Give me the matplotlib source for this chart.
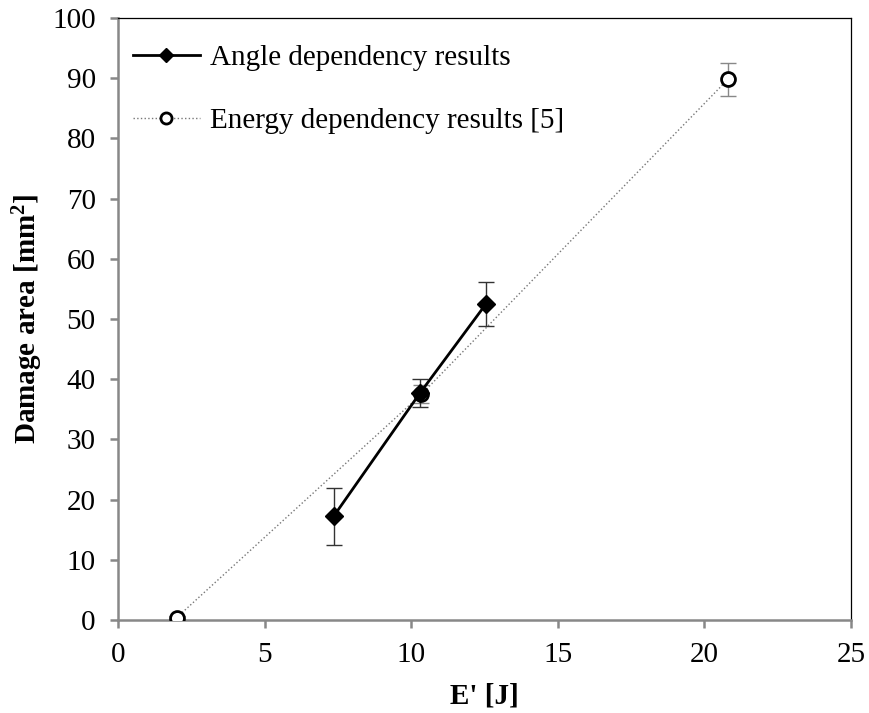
import matplotlib.pyplot as plt

# angle dependency results
angle_x = [7.35, 10.3, 12.55]
angle_y = [17.2, 37.7, 52.5]
angle_err = [4.7, 2.4, 3.6]

# energy dependency results [5]
energy_x = [2.0, 10.35, 20.8]
energy_y = [0.4, 37.5, 89.8]
energy_err = [0.3, 1.5, 2.8]

plt.rcParams['font.family'] = ['Liberation Serif', 'DejaVu Serif']
plt.rcParams['mathtext.fontset'] = 'custom'
plt.rcParams['mathtext.rm'] = 'Liberation Serif'
plt.rcParams['mathtext.bf'] = 'Liberation Serif:bold'

fig = plt.figure(figsize=(8.69, 7.13), dpi=100)
ax = fig.add_axes([0.1358, 0.1304, 0.8435, 0.8444])

grey = '#888888'

ax.errorbar(energy_x, energy_y, yerr=energy_err, fmt='none', ecolor=grey,
            elinewidth=1, capsize=6, zorder=2)
ax.plot(energy_x, energy_y, linestyle=':', color='#777777', linewidth=1,
        marker='o', markersize=10, markerfacecolor='white',
        markeredgecolor='black', markeredgewidth=2,
        label='Energy dependency results [5]', zorder=3)

ax.errorbar(angle_x, angle_y, yerr=angle_err, fmt='none', ecolor='#333333',
            elinewidth=1, capsize=6, zorder=4)
ax.plot(angle_x, angle_y, linestyle='-', color='black', linewidth=2,
        marker='D', markersize=9, markerfacecolor='black',
        markeredgecolor='black', label='Angle dependency results', zorder=5)

ax.set_xlim(0, 25)
ax.set_ylim(0, 100)
ax.set_xticks(range(0, 26, 5))
ax.set_yticks(range(0, 101, 10))

for s in ['top', 'right']:
    ax.spines[s].set_color('black')
    ax.spines[s].set_linewidth(0.9)
for s in ['left', 'bottom']:
    ax.spines[s].set_color(grey)
    ax.spines[s].set_linewidth(1.8)
ax.tick_params(direction='out', length=6, width=1.8, color=grey,
               labelsize=21, labelcolor='black', pad=10)

ax.set_xlabel("E' [J]", fontsize=21, fontweight='bold', labelpad=10)
ax.set_ylabel(r'Damage area [mm$\mathbf{^2}$]', fontsize=21, fontweight='bold',
              labelpad=5)

h, l = ax.get_legend_handles_labels()
ax.legend(h[::-1], l[::-1], loc='upper left', bbox_to_anchor=(0.0, 0.98),
          frameon=False, fontsize=21, handlelength=2.3, handletextpad=0.35,
          labelspacing=1.25, borderaxespad=0.1, markerscale=0.8)

fig.savefig('out.png', dpi=100)
